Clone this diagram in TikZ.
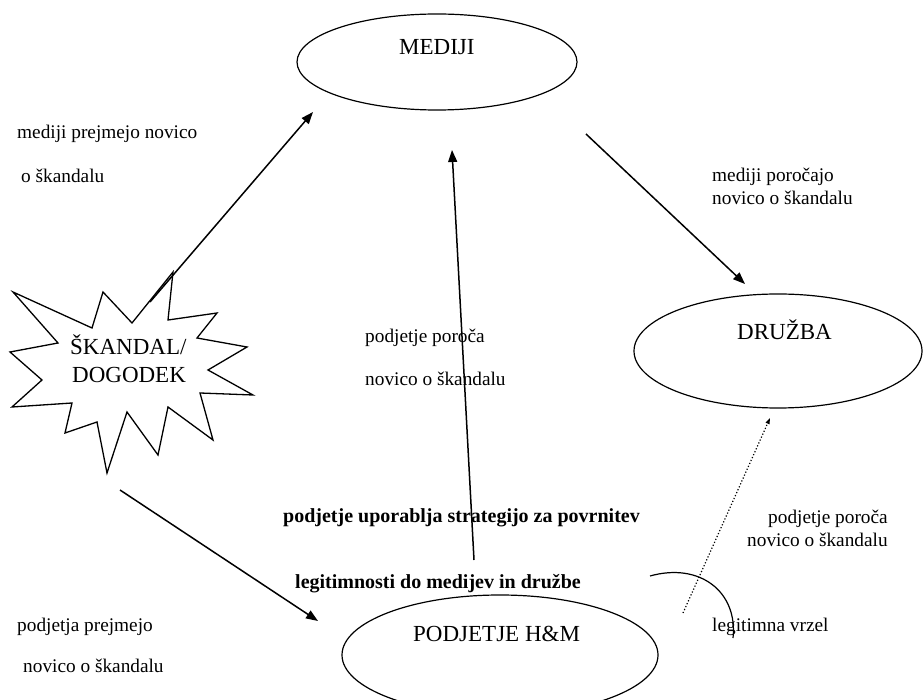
\documentclass[tikz,border=0pt]{standalone}
\usepackage{fontspec}
\setmainfont{Liberation Serif}
\usetikzlibrary{arrows.meta,shapes.geometric}
\begin{document}
\begin{tikzpicture}[x=1pt,y=-1pt,
  small/.style={font=\fontsize{19.3}{23}\selectfont, inner sep=0pt, anchor=base west},
  bigtxt/.style={font=\fontsize{23}{27}\selectfont, inner sep=0pt, anchor=base west},
  boldtxt/.style={font=\fontsize{20}{24}\selectfont\bfseries, inner sep=0pt, anchor=base west},
  oval/.style={draw, ellipse, line width=1.2pt, inner sep=0pt},
  arr/.style={line width=1.5pt, -{Triangle[length=12pt,width=9pt]}},
  dotarr/.style={line width=1.2pt, dotted, -{Triangle[length=6pt,width=4pt]}}]
\useasboundingbox (0,0) rectangle (924,700);

% ellipses
\node[oval, minimum width=280pt, minimum height=96pt] (med) at (437,62) {};
\node[oval, minimum width=288pt, minimum height=114pt] (dru) at (778,351) {};
\node[oval, minimum width=316pt, minimum height=120pt] (pod) at (500,655) {};

\node[bigtxt] (medt) at (399,55) {MEDIJI};
\node[bigtxt] (drut) at (737,340) {DRUŽBA};
\node[bigtxt] (podt) at (413,641) {PODJETJE H\&M};

% starburst
\draw[line width=1.3pt, line join=miter]
  (13,292) -- (92,328) -- (103,292) -- (132,323) -- (173,272) -- (168,320)
  -- (217,313) -- (197,338) -- (247,347) -- (208,370) -- (253,395)
  -- (200,393) -- (213,440) -- (168,407) -- (158,455) -- (127,412)
  -- (107,473) -- (97,422) -- (65,433) -- (72,403) -- (12,407)
  -- (42,380) -- (10,352) -- (58,343) -- cycle;
\node[bigtxt] (sk1) at (70,355) {ŠKANDAL/};
\node[bigtxt] (sk2) at (72,383) {DOGODEK};

% connector end points
\coordinate (a1s) at (150,302);
\coordinate (a1e) at (313,112);
\coordinate (a2s) at (586,134);
\coordinate (a2e) at (745,284);
\coordinate (a3s) at (474,560);
\coordinate (a3e) at (452,150);
\coordinate (a4s) at (120,490);
\coordinate (a4e) at (318,621);
\coordinate (a5s) at (683,613);
\coordinate (a5e) at (770,418);
\coordinate (arcS) at (650,576);
\coordinate (arcE) at (733,638);

\draw[arr] (a1s) -- (a1e);
\draw[arr] (a2s) -- (a2e);
\draw[arr] (a3s) -- (a3e);
\draw[arr] (a4s) -- (a4e);
\draw[dotarr] (a5s) -- (a5e);
\draw[line width=1.2pt] (arcS) .. controls (700,562) and (738,592) .. (arcE);

% labels
\node[small] (l1a) at (17,139) {mediji prejmejo novico};
\node[small] (l1b) at (21,183) {o škandalu};
\node[small] (l2a) at (712,182) {mediji poročajo};
\node[small] (l2b) at (712,205) {novico o škandalu};
\node[small] (l3a) at (365,343) {podjetje poroča};
\node[small] (l3b) at (365,386) {novico o škandalu};
\node[boldtxt] (l4a) at (283,522) {podjetje uporablja strategijo za povrnitev};
\node[boldtxt] (l4b) at (295,588) {legitimnosti do medijev in družbe};
\node[small] (l5a) at (768,523) {podjetje poroča};
\node[small] (l5b) at (747,546) {novico o škandalu};
\node[small] (l6) at (712,631) {legitimna vrzel};
\node[small] (l7a) at (17,631) {podjetja prejmejo};
\node[small] (l7b) at (23,672) {novico o škandalu};
\end{tikzpicture}
\end{document}
